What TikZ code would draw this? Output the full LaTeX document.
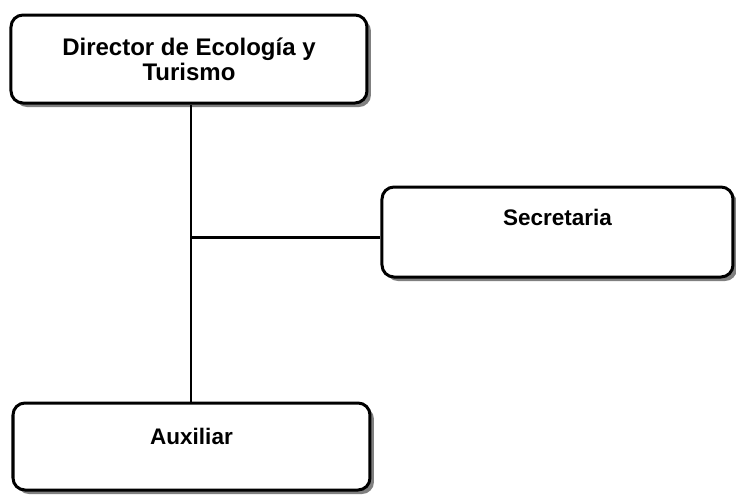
\documentclass[tikz,border=0pt]{standalone}
\usepackage{fontspec}
\setmainfont{Liberation Sans}
\usetikzlibrary{shadows}

\begin{document}
\begin{tikzpicture}[x=0.5pt, y=-0.5pt,
    puesto/.style={draw, line width=1.5pt, rounded corners=6pt, fill=white,
        inner sep=0pt, align=center,
        font=\fontsize{11.25}{12.5}\selectfont\bfseries,
        drop shadow={shadow xshift=2pt, shadow yshift=-2pt, fill=black!50, opacity=1}}]
    \useasboundingbox (0,0) rectangle (736,495);
    \node[puesto, minimum width=178pt, minimum height=44pt,
        font=\fontsize{12}{12.5}\selectfont\bfseries] (dir) at (189,59) {Director de Ecología y\\Turismo};
    \node[puesto, minimum width=175.5pt, text height=19pt, text depth=26pt] (sec) at (557.5,232) {Secretaria};
    \node[puesto, minimum width=178.5pt, text height=20.5pt, text depth=23pt] (aux) at (191.5,446.5) {Auxiliar};

    \draw[line width=1pt] (dir.south -| aux.north) -- (aux.north);
    \draw[line width=1.5pt] ([yshift=-2.5pt]sec.west -| aux.north) -- ([yshift=-2.5pt]sec.west);
\end{tikzpicture}
\end{document}
